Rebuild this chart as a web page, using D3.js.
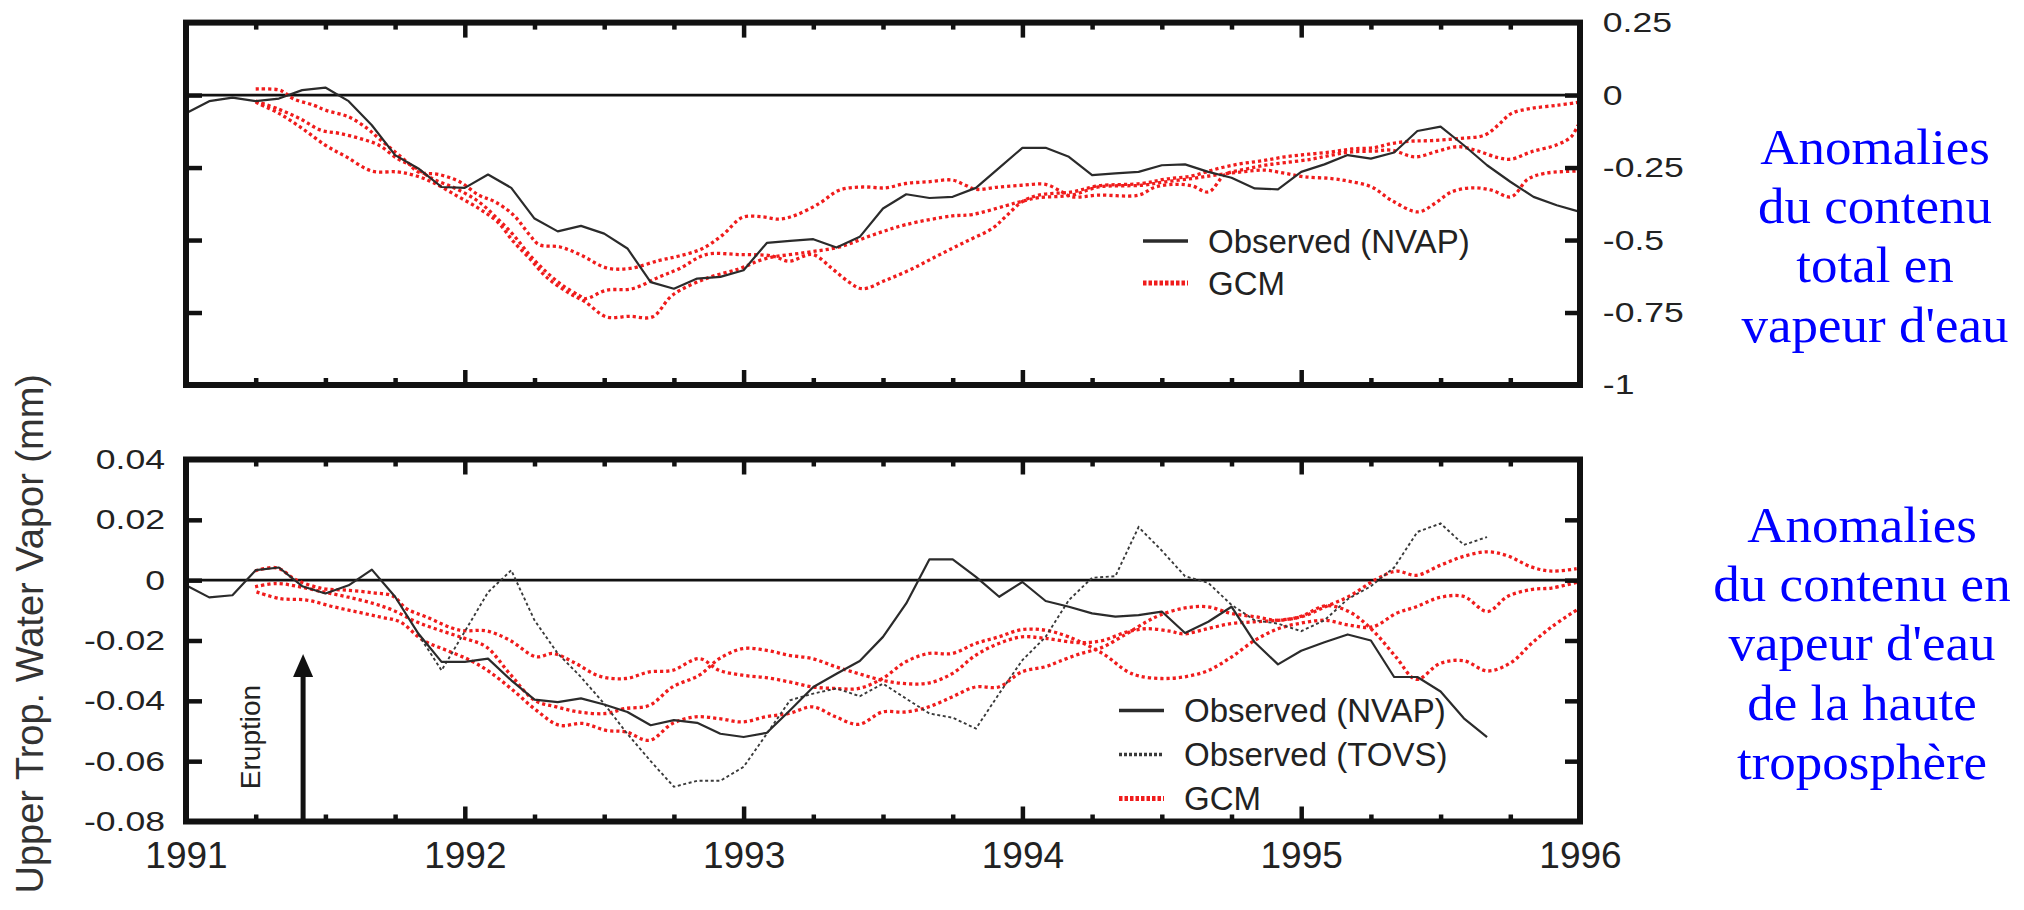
<!DOCTYPE html>
<html>
<head>
<meta charset="utf-8">
<script src="https://cdn.jsdelivr.net/npm/d3@7"></script>
<style>
  body { margin: 0; background: #fff; }
  svg { display: block; }
</style>
</head>
<body>
<svg id="chart" width="2024" height="910"></svg>
<script>
// ---- data ----
const years = [1991, 1992, 1993, 1994, 1995, 1996];
const obsStart = 1991; // observations are monthly from Jan 1991

const topTickVals = [0.25, 0, -0.25, -0.5, -0.75, -1];
const topTickLabels = ["0.25", "0", "-0.25", "-0.5", "-0.75", "-1"];
const botTickVals = [0.04, 0.02, 0, -0.02, -0.04, -0.06, -0.08];
const botTickLabels = ["0.04", "0.02", "0", "-0.02", "-0.04", "-0.06", "-0.08"];

// total water vapour anomaly, NVAP (monthly)
const nvapTotal = [-0.063, -0.021, -0.009, -0.021, -0.012, 0.017, 0.026, -0.021, -0.104, -0.207,
  -0.253, -0.317, -0.32, -0.274, -0.32, -0.426, -0.47, -0.451, -0.478, -0.529,
  -0.645, -0.668, -0.633, -0.627, -0.604, -0.51, -0.503, -0.497, -0.526, -0.489,
  -0.391, -0.342, -0.355, -0.351, -0.32, -0.251, -0.182, -0.182, -0.213, -0.276,
  -0.27, -0.265, -0.242, -0.239, -0.265, -0.285, -0.322, -0.325, -0.265, -0.239,
  -0.207, -0.219, -0.198, -0.124, -0.109, -0.173, -0.242, -0.299, -0.351, -0.38, -0.403];

// GCM runs, total water vapour [year, value]
const gcmTotal1 = [[1991.25,0.021],[1991.333,0.018],[1991.358,0.006],[1991.383,-0.012],[1991.458,-0.035],[1991.5,-0.052],[1991.583,-0.075],[1991.65,-0.115],[1991.692,-0.15],[1991.75,-0.196],[1991.792,-0.23],[1991.833,-0.265],[1991.908,-0.274],[1991.983,-0.3],[1992.05,-0.345],[1992.108,-0.368],[1992.175,-0.414],[1992.233,-0.483],[1992.267,-0.516],[1992.342,-0.524],[1992.417,-0.552],[1992.508,-0.596],[1992.592,-0.598],[1992.698,-0.57],[1992.769,-0.555],[1992.853,-0.529],[1992.924,-0.483],[1992.996,-0.422],[1993.068,-0.42],[1993.128,-0.428],[1993.187,-0.414],[1993.271,-0.374],[1993.343,-0.328],[1993.426,-0.317],[1993.509,-0.32],[1993.581,-0.305],[1993.664,-0.299],[1993.748,-0.293],[1993.796,-0.311],[1993.832,-0.325],[1993.915,-0.317],[1993.999,-0.311],[1994.083,-0.308],[1994.142,-0.334],[1994.178,-0.351],[1994.273,-0.345],[1994.417,-0.345],[1994.477,-0.317],[1994.548,-0.308],[1994.608,-0.313],[1994.668,-0.334],[1994.727,-0.274],[1994.798,-0.256],[1994.87,-0.242],[1994.942,-0.233],[1995.038,-0.221],[1995.109,-0.207],[1995.181,-0.196],[1995.264,-0.193],[1995.324,-0.19],[1995.408,-0.213],[1995.491,-0.193],[1995.563,-0.178],[1995.634,-0.193],[1995.706,-0.216],[1995.753,-0.221],[1995.825,-0.196],[1995.921,-0.17],[1995.968,-0.144],[1995.993,-0.104]];
const gcmTotal2 = [[1991.25,-0.021],[1991.333,-0.049],[1991.408,-0.081],[1991.483,-0.121],[1991.55,-0.132],[1991.625,-0.15],[1991.692,-0.173],[1991.758,-0.219],[1991.817,-0.247],[1991.883,-0.288],[1991.967,-0.322],[1992.05,-0.368],[1992.117,-0.426],[1992.175,-0.483],[1992.233,-0.552],[1992.292,-0.61],[1992.35,-0.656],[1992.408,-0.69],[1992.433,-0.702],[1992.508,-0.673],[1992.6,-0.668],[1992.698,-0.627],[1992.769,-0.599],[1992.865,-0.55],[1992.984,-0.55],[1993.103,-0.555],[1993.163,-0.573],[1993.247,-0.55],[1993.318,-0.599],[1993.378,-0.645],[1993.426,-0.668],[1993.509,-0.639],[1993.605,-0.599],[1993.7,-0.552],[1993.796,-0.506],[1993.892,-0.46],[1993.939,-0.42],[1993.999,-0.368],[1994.058,-0.345],[1994.178,-0.334],[1994.273,-0.313],[1994.428,-0.305],[1994.513,-0.29],[1994.608,-0.279],[1994.691,-0.256],[1994.775,-0.238],[1994.858,-0.227],[1994.942,-0.213],[1995.026,-0.204],[1995.109,-0.196],[1995.181,-0.186],[1995.264,-0.181],[1995.324,-0.167],[1995.396,-0.159],[1995.468,-0.157],[1995.563,-0.15],[1995.658,-0.138],[1995.706,-0.104],[1995.753,-0.064],[1995.825,-0.046],[1995.921,-0.035],[1995.993,-0.025]];
const gcmTotal3 = [[1991.25,-0.025],[1991.333,-0.063],[1991.417,-0.115],[1991.5,-0.173],[1991.575,-0.213],[1991.667,-0.262],[1991.758,-0.265],[1991.817,-0.276],[1991.883,-0.3],[1991.967,-0.345],[1992.05,-0.391],[1992.117,-0.437],[1992.175,-0.506],[1992.233,-0.564],[1992.292,-0.627],[1992.367,-0.679],[1992.433,-0.714],[1992.508,-0.765],[1992.592,-0.763],[1992.673,-0.765],[1992.745,-0.69],[1992.865,-0.633],[1992.984,-0.599],[1993.079,-0.564],[1993.223,-0.543],[1993.343,-0.524],[1993.462,-0.483],[1993.581,-0.447],[1993.748,-0.417],[1993.82,-0.412],[1993.939,-0.382],[1993.999,-0.366],[1994.058,-0.354],[1994.178,-0.345],[1994.273,-0.317],[1994.428,-0.311],[1994.513,-0.299],[1994.608,-0.288],[1994.691,-0.276],[1994.787,-0.265],[1994.87,-0.259],[1994.942,-0.27],[1995.013,-0.282],[1995.109,-0.288],[1995.181,-0.299],[1995.253,-0.317],[1995.324,-0.363],[1995.419,-0.403],[1995.479,-0.374],[1995.539,-0.334],[1995.611,-0.32],[1995.683,-0.328],[1995.753,-0.351],[1995.813,-0.29],[1995.873,-0.27],[1995.993,-0.262]];

// upper troposphere, NVAP (monthly) and TOVS (monthly from Nov 1991)
const nvapUpper = [-0.0017, -0.0057, -0.005, 0.0033, 0.0042, -0.002, -0.0044, -0.0017, 0.0035, -0.0055,
  -0.0177, -0.0271, -0.0271, -0.026, -0.0332, -0.0396, -0.0404, -0.0392, -0.0412, -0.0437,
  -0.0481, -0.0464, -0.0473, -0.0509, -0.052, -0.0506, -0.0431, -0.0354, -0.031, -0.0268,
  -0.0188, -0.0077, 0.0069, 0.0069, 0.0011, -0.0055, -0.0006, -0.0069, -0.0088, -0.011,
  -0.0121, -0.0116, -0.0104, -0.0175, -0.0138, -0.0088, -0.0206, -0.0279, -0.0234, -0.0206,
  -0.018, -0.02, -0.0321, -0.0321, -0.0369, -0.0458, -0.052];
const tovsFirstMonth = 10;
const tovsUpper = [-0.018, -0.0299, -0.017, -0.004, 0.0033, -0.0133, -0.0243, -0.0321, -0.041, -0.051,
  -0.06, -0.0685, -0.0665, -0.0665, -0.0619, -0.0509, -0.0398, -0.0376, -0.0359, -0.0385,
  -0.0343, -0.0393, -0.0442, -0.0456, -0.0492, -0.0376, -0.0265, -0.0188, -0.0066, 0.0008,
  0.0013, 0.0176, 0.0098, 0.0013, -0.0009, -0.0082, -0.0133, -0.0144, -0.0169, -0.0133,
  -0.0063, -0.002, 0.0042, 0.016, 0.0188, 0.0117, 0.0143];

const gcmUpper1 = [[1991.248,0.0031],[1991.325,0.0041],[1991.397,0],[1991.492,-0.0028],[1991.576,-0.0033],[1991.671,-0.0042],[1991.743,-0.0053],[1991.79,-0.0094],[1991.862,-0.0122],[1991.982,-0.0166],[1992.077,-0.0168],[1992.161,-0.0199],[1992.256,-0.0254],[1992.316,-0.0243],[1992.388,-0.0271],[1992.483,-0.0318],[1992.578,-0.0326],[1992.662,-0.0304],[1992.745,-0.0299],[1992.841,-0.026],[1992.913,-0.0299],[1992.996,-0.0315],[1993.079,-0.0323],[1993.163,-0.0337],[1993.247,-0.0354],[1993.33,-0.0359],[1993.413,-0.0359],[1993.498,-0.0326],[1993.581,-0.0271],[1993.664,-0.0243],[1993.748,-0.0243],[1993.832,-0.021],[1993.915,-0.0188],[1993.998,-0.0164],[1994.083,-0.0166],[1994.166,-0.0188],[1994.291,-0.0245],[1994.373,-0.0301],[1994.421,-0.0318],[1994.499,-0.0326],[1994.578,-0.0321],[1994.663,-0.0301],[1994.748,-0.0256],[1994.833,-0.02],[1994.917,-0.0161],[1995.002,-0.0142],[1995.087,-0.0133],[1995.171,-0.0149],[1995.256,-0.0155],[1995.341,-0.011],[1995.413,-0.0088],[1995.498,-0.0057],[1995.583,-0.0054],[1995.668,-0.0104],[1995.74,-0.0054],[1995.825,-0.0031],[1995.898,-0.0026],[1995.988,-0.0007]];
const gcmUpper2 = [[1991.248,-0.0022],[1991.325,-0.0011],[1991.408,-0.0022],[1991.492,-0.0039],[1991.576,-0.0055],[1991.671,-0.0077],[1991.743,-0.01],[1991.826,-0.0138],[1991.91,-0.0166],[1991.999,-0.0193],[1992.077,-0.0221],[1992.161,-0.031],[1992.25,-0.0398],[1992.328,-0.042],[1992.411,-0.0437],[1992.507,-0.0442],[1992.572,-0.0426],[1992.662,-0.0415],[1992.745,-0.0354],[1992.841,-0.0315],[1992.913,-0.026],[1992.996,-0.0227],[1993.079,-0.0232],[1993.163,-0.0249],[1993.247,-0.026],[1993.33,-0.0287],[1993.413,-0.031],[1993.498,-0.0332],[1993.581,-0.0343],[1993.664,-0.0341],[1993.748,-0.031],[1993.832,-0.0249],[1993.915,-0.021],[1993.998,-0.0188],[1994.083,-0.0193],[1994.203,-0.0207],[1994.288,-0.02],[1994.373,-0.0172],[1994.445,-0.0161],[1994.529,-0.0169],[1994.578,-0.0178],[1994.663,-0.0161],[1994.748,-0.0144],[1994.833,-0.0138],[1994.917,-0.0133],[1995.002,-0.0121],[1995.087,-0.0088],[1995.171,-0.0054],[1995.268,0.0002],[1995.341,0.003],[1995.413,0.0016],[1995.498,0.0049],[1995.583,0.0079],[1995.668,0.0094],[1995.74,0.0081],[1995.825,0.0044],[1995.898,0.003],[1995.988,0.0038]];
const gcmUpper3 = [[1991.253,-0.0039],[1991.337,-0.0061],[1991.433,-0.0066],[1991.528,-0.0088],[1991.612,-0.0105],[1991.695,-0.0122],[1991.767,-0.0138],[1991.85,-0.0199],[1991.933,-0.0232],[1992.018,-0.0265],[1992.089,-0.0304],[1992.173,-0.0365],[1992.256,-0.0431],[1992.339,-0.0481],[1992.423,-0.0475],[1992.507,-0.0498],[1992.578,-0.0503],[1992.662,-0.0531],[1992.745,-0.0475],[1992.828,-0.0453],[1992.913,-0.0459],[1992.996,-0.047],[1993.079,-0.0453],[1993.163,-0.0442],[1993.247,-0.042],[1993.33,-0.0453],[1993.413,-0.0478],[1993.498,-0.0437],[1993.581,-0.0437],[1993.664,-0.042],[1993.748,-0.0387],[1993.832,-0.0354],[1993.915,-0.0354],[1993.998,-0.0304],[1994.083,-0.0287],[1994.13,-0.027],[1994.203,-0.0245],[1994.288,-0.0222],[1994.373,-0.0178],[1994.445,-0.0138],[1994.493,-0.0116],[1994.578,-0.0093],[1994.663,-0.0088],[1994.748,-0.011],[1994.833,-0.0121],[1994.917,-0.0133],[1995.002,-0.0119],[1995.087,-0.0085],[1995.171,-0.0104],[1995.256,-0.0166],[1995.341,-0.0256],[1995.413,-0.0329],[1995.498,-0.0276],[1995.583,-0.0267],[1995.668,-0.0301],[1995.753,-0.0273],[1995.825,-0.0211],[1995.898,-0.0155],[1995.988,-0.0099]];

const eruptionYear = 1991.42;

const legendTop = ["Observed (NVAP)", "GCM"];
const legendBot = ["Observed (NVAP)", "Observed (TOVS)", "GCM"];
const yTitle = "Upper Trop. Water Vapor (mm)";
const noteTop = ["Anomalies", "du contenu", "total en", "vapeur d'eau"];
const noteBot = ["Anomalies", "du contenu en", "vapeur d'eau", "de la haute", "troposphère"];

// ---- drawing ----
const svg = d3.select("#chart");
const sansFont = "'Liberation Sans', Arial, Helvetica, sans-serif";
const serifFont = "'Liberation Serif', 'Times New Roman', serif";

const x = d3.scaleLinear().domain([1991, 1996]).range([186, 1580]);
const minorTicks = d3.range(1991.25, 1996, 0.25).filter((d) => d % 1 !== 0);

const styles = {
  nvap: { stroke: "#2b2b2b", width: 2.2, dash: null },
  tovs: { stroke: "#3a3a3a", width: 1.9, dash: "3,2.6" },
  gcm: { stroke: "#f01c1c", width: 3.3, dash: "3.2,3" },
};

class PanelVis {
  constructor(_config, _data) {
    this.config = {
      top: _config.top,
      bottom: _config.bottom,
      domain: _config.domain,
      tickVals: _config.tickVals,
      tickLabels: _config.tickLabels,
      labelSide: _config.labelSide,
    };
    this.data = _data;
    this.initVis();
  }

  initVis() {
    let vis = this;
    vis.y = d3.scaleLinear().domain(vis.config.domain).range([vis.config.bottom, vis.config.top]);
    vis.g = svg.append("g");
    vis.renderVis();
  }

  renderVis() {
    let vis = this;
    const y = vis.y;

    // zero line
    vis.g.append("line")
      .attr("x1", x.range()[0]).attr("x2", x.range()[1])
      .attr("y1", y(0)).attr("y2", y(0))
      .attr("stroke", "#111").attr("stroke-width", 2.6);

    const line = d3.line().x((d) => x(d[0])).y((d) => y(d[1]));
    const smooth = d3.line().x((d) => x(d[0])).y((d) => y(d[1])).curve(d3.curveCatmullRom.alpha(0.5));

    vis.data.gcm.forEach((run) => {
      vis.g.append("path").attr("d", smooth(run))
        .attr("fill", "none").attr("stroke", styles.gcm.stroke)
        .attr("stroke-width", styles.gcm.width).attr("stroke-dasharray", styles.gcm.dash);
    });

    if (vis.data.tovs) {
      const pts = vis.data.tovs.map((v, i) => [obsStart + (i + tovsFirstMonth) / 12, v]);
      vis.g.append("path").attr("d", line(pts))
        .attr("fill", "none").attr("stroke", styles.tovs.stroke)
        .attr("stroke-width", styles.tovs.width).attr("stroke-dasharray", styles.tovs.dash);
    }

    const obs = vis.data.nvap.map((v, i) => [obsStart + i / 12, v]);
    vis.g.append("path").attr("d", line(obs))
      .attr("fill", "none").attr("stroke", styles.nvap.stroke)
      .attr("stroke-width", styles.nvap.width).attr("stroke-linejoin", "round");

    // frame
    vis.g.append("rect")
      .attr("x", x.range()[0]).attr("y", vis.config.top)
      .attr("width", x.range()[1] - x.range()[0])
      .attr("height", vis.config.bottom - vis.config.top)
      .attr("fill", "none").attr("stroke", "#111").attr("stroke-width", 6);

    // inward ticks on all four sides
    const tickStyle = (sel) => {
      sel.select(".domain").remove();
      sel.selectAll(".tick line").attr("stroke", "#111").attr("stroke-width", 4.5);
    };
    const inner = vis.config.tickVals.filter((d) => d !== vis.config.domain[0] && d !== vis.config.domain[1]);
    [[d3.axisBottom, vis.config.bottom], [d3.axisTop, vis.config.top]].forEach(([ax, yy]) => {
      vis.g.append("g").attr("transform", `translate(0,${yy})`)
        .call(ax(x).tickValues(years).tickSize(-15).tickFormat("")).call(tickStyle);
      vis.g.append("g").attr("transform", `translate(0,${yy})`)
        .call(ax(x).tickValues(minorTicks).tickSize(-7).tickFormat("")).call(tickStyle);
    });
    vis.g.append("g").attr("transform", `translate(${x.range()[0]},0)`)
      .call(d3.axisLeft(y).tickValues(inner).tickSize(-16).tickFormat("")).call(tickStyle);
    vis.g.append("g").attr("transform", `translate(${x.range()[1]},0)`)
      .call(d3.axisRight(y).tickValues(inner).tickSize(-15).tickFormat("")).call(tickStyle);

    // y tick labels (the original type is a bit wide)
    const right = vis.config.labelSide === "right";
    const labAxis = right ? d3.axisRight(y) : d3.axisLeft(y);
    vis.g.append("g")
      .attr("transform", `translate(${right ? x.range()[1] : x.range()[0]},0)`)
      .call(labAxis.tickValues(vis.config.tickVals).tickSize(0).tickPadding(right ? 18 : 16.5)
        .tickFormat((d, i) => vis.config.tickLabels[i]))
      .call((g) => g.select(".domain").remove())
      .selectAll("text")
      .attr("font-family", sansFont).attr("font-size", 28).attr("fill", "#222")
      .attr("transform", "scale(1.27,1)");
  }
}

const topPanel = new PanelVis(
  { top: 22.6, bottom: 385, domain: [-1, 0.25], tickVals: topTickVals, tickLabels: topTickLabels, labelSide: "right" },
  { nvap: nvapTotal, gcm: [gcmTotal1, gcmTotal2, gcmTotal3] }
);
const botPanel = new PanelVis(
  { top: 459.5, bottom: 821.5, domain: [-0.08, 0.04], tickVals: botTickVals, tickLabels: botTickLabels, labelSide: "left" },
  { nvap: nvapUpper, tovs: tovsUpper, gcm: [gcmUpper1, gcmUpper2, gcmUpper3] }
);

// year labels under the lower panel
svg.append("g").attr("transform", "translate(0,821.5)")
  .call(d3.axisBottom(x).tickValues(years).tickSize(0).tickPadding(20).tickFormat(d3.format("d")))
  .call((g) => g.select(".domain").remove())
  .selectAll("text")
  .attr("font-family", sansFont).attr("font-size", 37).attr("fill", "#222");

// eruption arrow
const ex = x(eruptionYear);
const yb = botPanel.y;
svg.append("line")
  .attr("x1", ex).attr("x2", ex).attr("y1", yb(-0.08)).attr("y2", 672)
  .attr("stroke", "#111").attr("stroke-width", 5);
svg.append("path")
  .attr("d", `M${ex},654 L${ex - 10},677 L${ex + 10},677 Z`)
  .attr("fill", "#111");
svg.append("text")
  .attr("transform", `translate(${ex - 43},737) rotate(-90)`)
  .attr("text-anchor", "middle")
  .attr("font-family", sansFont).attr("font-size", 28).attr("fill", "#222")
  .text("Eruption");

// y title
svg.append("text")
  .attr("transform", "translate(43,374) rotate(-90)")
  .attr("text-anchor", "end")
  .attr("font-family", sansFont).attr("font-size", 38).attr("fill", "#333")
  .text(yTitle);

// legends
function drawLegend(labels, keys, x0, y0, gap) {
  const lg = svg.append("g");
  labels.forEach((lab, i) => {
    const s = styles[keys[i]];
    const yy = y0 + i * gap;
    lg.append("line")
      .attr("x1", x0).attr("x2", x0 + 45).attr("y1", yy).attr("y2", yy)
      .attr("stroke", s.stroke)
      .attr("stroke-width", keys[i] === "gcm" ? 5 : 3.6)
      .attr("stroke-dasharray", keys[i] === "gcm" ? "3.5,2" : keys[i] === "tovs" ? "3,2" : null);
    lg.append("text")
      .attr("x", x0 + 65).attr("y", yy + 11.5)
      .attr("font-family", sansFont).attr("font-size", 33).attr("fill", "#222")
      .text(lab);
  });
}
drawLegend(legendTop, ["nvap", "gcm"], 1143, 241, 42);
drawLegend(legendBot, ["nvap", "tovs", "gcm"], 1119, 710.5, 44);

// blue notes on the right
function drawNote(lines, cx, y0) {
  lines.forEach((t, i) => {
    svg.append("text")
      .attr("transform", `translate(${cx},${y0 + i * 59.2}) scale(1.06,1)`)
      .attr("text-anchor", "middle")
      .attr("font-family", serifFont).attr("font-size", 50).attr("fill", "#0000ff")
      .text(t);
  });
}
drawNote(noteTop, 1875, 164);
drawNote(noteBot, 1862, 542);
</script>
</body>
</html>
